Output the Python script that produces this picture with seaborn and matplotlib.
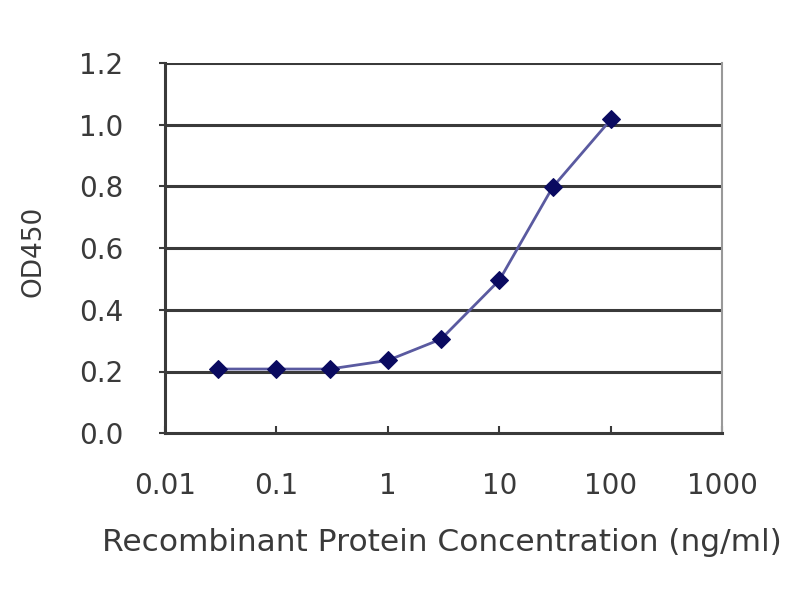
import matplotlib
matplotlib.use("Agg")
import matplotlib.pyplot as plt
import seaborn as sns
import pandas as pd
from matplotlib.ticker import FixedLocator, FixedFormatter

concentration = [0.03, 0.1, 0.3, 1, 3, 10, 30, 100]
od450 = [0.208, 0.208, 0.208, 0.236, 0.305, 0.496, 0.797, 1.017]
x_ticks = [0.01, 0.1, 1, 10, 100, 1000]
x_tick_labels = ["0.01", "0.1", "1", "10", "100", "1000"]
y_ticks = [0.0, 0.2, 0.4, 0.6, 0.8, 1.0, 1.2]
y_tick_labels = ["0.0", "0.2", "0.4", "0.6", "0.8", "1.0", "1.2"]

df = pd.DataFrame({"conc": concentration, "od": od450})

sns.set_style("white")
plt.rcParams["font.family"] = ["DejaVu Sans"]

fig = plt.figure(figsize=(8, 6), dpi=100)
ax = fig.add_axes([0.206, 0.278, 0.697, 0.617])

sns.lineplot(data=df, x="conc", y="od", ax=ax, color="#5a5aa0", linewidth=2.0,
             marker="D", markersize=9, markerfacecolor="#0a0a60",
             markeredgecolor="#0a0a60", zorder=3)

ax.set_xscale("log")
ax.set_xlim(0.01, 1000)
ax.set_ylim(0, 1.2)
ax.xaxis.set_major_locator(FixedLocator(x_ticks))
ax.xaxis.set_major_formatter(FixedFormatter(x_tick_labels))
ax.xaxis.set_minor_locator(FixedLocator([]))
ax.yaxis.set_major_locator(FixedLocator(y_ticks))
ax.yaxis.set_major_formatter(FixedFormatter(y_tick_labels))

for y in y_ticks[1:]:
    ax.axhline(y, color="#3a3a3a", linewidth=2.2, zorder=1)

for side in ["left", "bottom"]:
    ax.spines[side].set_color("#3a3a3a")
    ax.spines[side].set_linewidth(2.2)
ax.spines["right"].set_color("#999999")
ax.spines["right"].set_linewidth(1.5)
ax.spines["top"].set_visible(False)

ax.tick_params(axis="x", direction="in", length=5, width=1.5, color="#3a3a3a",
               labelsize=20, labelcolor="#3a3a3a", pad=28)
ax.tick_params(axis="y", direction="out", length=4, width=1.5, color="#3a3a3a",
               labelsize=20, labelcolor="#3a3a3a", pad=26)
ax.tick_params(bottom=True, left=True)

ax.set_xlabel("Recombinant Protein Concentration (ng/ml)", fontsize=22.5,
              color="#3a3a3a")
ax.set_ylabel("OD450", fontsize=19, color="#3a3a3a")
ax.xaxis.set_label_coords(0.497, -0.255)
ax.yaxis.set_label_coords(-0.213, 0.49)

fig.savefig("out.png", dpi=100)
